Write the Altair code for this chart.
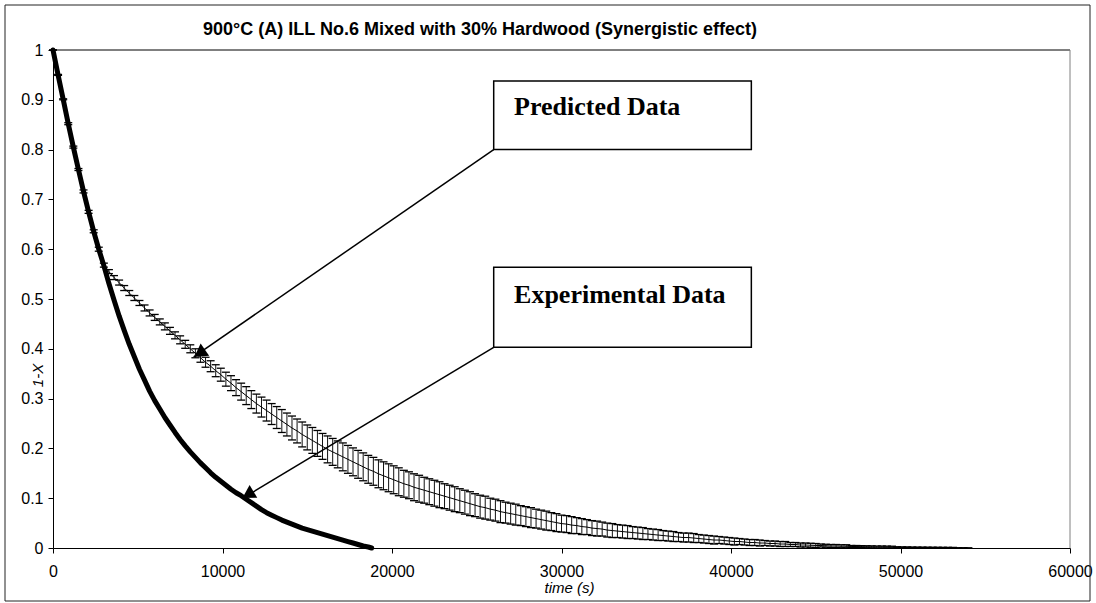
import altair as alt
import pandas as pd

# ---- Predicted conversion (mean and error half-width), sampled every 300 s ----
pred_time = list(range(0, 54001, 300))
pred_mean = [
    1.000, 0.950, 0.901, 0.852, 0.805, 0.760, 0.716, 0.675, 0.636, 0.600, 0.568,
    0.555, 0.543, 0.533, 0.522, 0.512, 0.502, 0.492, 0.482, 0.472,
    0.463, 0.454, 0.445, 0.436, 0.427, 0.418, 0.409, 0.400, 0.391,
    0.382, 0.373, 0.365, 0.356, 0.348, 0.339, 0.331, 0.322, 0.314, 0.306,
    0.298, 0.290, 0.283, 0.276, 0.269, 0.262, 0.255, 0.248, 0.241, 0.235,
    0.228, 0.222, 0.216, 0.210, 0.204, 0.198, 0.193, 0.188, 0.183, 0.178,
    0.173, 0.168, 0.163, 0.158, 0.154, 0.149, 0.145, 0.141, 0.137, 0.133,
    0.129, 0.126, 0.122, 0.119, 0.116, 0.113, 0.110, 0.107, 0.104, 0.101,
    0.098, 0.095, 0.092, 0.089, 0.086, 0.083, 0.081, 0.078, 0.076, 0.073,
    0.071, 0.069, 0.067, 0.065, 0.063, 0.061, 0.059, 0.057, 0.055, 0.053,
    0.051, 0.049, 0.048, 0.046, 0.045, 0.043, 0.042, 0.040, 0.039, 0.038,
    0.036, 0.035, 0.034, 0.033, 0.032, 0.031, 0.030, 0.029, 0.028, 0.027,
    0.026, 0.025, 0.024, 0.023, 0.022, 0.021, 0.021, 0.020, 0.019, 0.018,
    0.017, 0.016, 0.016, 0.015, 0.014, 0.013, 0.013, 0.012, 0.011, 0.011,
    0.010, 0.010, 0.009, 0.009, 0.008, 0.008, 0.007, 0.007, 0.006, 0.006,
    0.0055, 0.005, 0.005, 0.0045, 0.004, 0.004, 0.0035, 0.0035, 0.003, 0.003,
    0.0027, 0.0025, 0.0023, 0.002, 0.002, 0.0018, 0.0016, 0.0015, 0.0013, 0.0012,
    0.001, 0.0009, 0.0008, 0.0007, 0.0006, 0.0005, 0.0004, 0.0003, 0.0002, 0.0001,
    0.0001, 0.0,
]
pred_err = [
    0.000, 0.001, 0.001, 0.002, 0.002, 0.002, 0.003, 0.003, 0.003, 0.004, 0.004,
    0.004, 0.004, 0.005, 0.005, 0.005, 0.005, 0.005, 0.006, 0.006,
    0.006, 0.006, 0.007, 0.007, 0.007, 0.008, 0.008, 0.008, 0.009,
    0.009, 0.010, 0.011, 0.012, 0.013, 0.014, 0.015, 0.016, 0.017, 0.018,
    0.018, 0.019, 0.020, 0.021, 0.021, 0.022, 0.023, 0.023, 0.024, 0.024,
    0.025, 0.025, 0.026, 0.026, 0.026, 0.027, 0.027, 0.027, 0.028, 0.028,
    0.028, 0.028, 0.028, 0.028, 0.028, 0.028, 0.028, 0.028, 0.028, 0.028,
    0.027, 0.027, 0.027, 0.027, 0.026, 0.026, 0.026, 0.026, 0.025, 0.025,
    0.025, 0.024, 0.024, 0.024, 0.023, 0.023, 0.023, 0.022, 0.022, 0.022,
    0.021, 0.021, 0.021, 0.020, 0.020, 0.020, 0.019, 0.019, 0.019, 0.018,
    0.018, 0.017, 0.017, 0.017, 0.016, 0.016, 0.015, 0.015, 0.015, 0.014,
    0.014, 0.014, 0.013, 0.013, 0.013, 0.012, 0.012, 0.012, 0.011, 0.011,
    0.011, 0.010, 0.010, 0.010, 0.009, 0.009, 0.009, 0.009, 0.008, 0.008,
    0.008, 0.008, 0.007, 0.007, 0.007, 0.007, 0.006, 0.006, 0.006, 0.006,
    0.006, 0.005, 0.005, 0.005, 0.005, 0.005, 0.004, 0.004, 0.004, 0.004,
    0.004, 0.004, 0.003, 0.003, 0.003, 0.003, 0.003, 0.003, 0.002, 0.002,
    0.002, 0.002, 0.002, 0.002, 0.002, 0.002, 0.002, 0.001, 0.001, 0.001,
    0.001, 0.001, 0.001, 0.001, 0.001, 0.001, 0.001, 0.001, 0.001, 0.000,
    0.000, 0.000,
]

# ---- Experimental conversion ----
exp_time = list(range(0, 18601, 300)) + [18800]
exp_val = [
    1.000, 0.950, 0.901, 0.852, 0.805, 0.760, 0.716, 0.675, 0.636, 0.600, 0.567,
    0.531, 0.498, 0.466, 0.437, 0.409, 0.384, 0.359, 0.337, 0.315, 0.296,
    0.279, 0.262, 0.247, 0.232, 0.218, 0.205, 0.193, 0.182, 0.171, 0.161,
    0.151, 0.142, 0.134, 0.126, 0.118, 0.111, 0.105, 0.098, 0.091, 0.084,
    0.077, 0.071, 0.066, 0.061, 0.056, 0.052, 0.048, 0.044, 0.040, 0.037,
    0.034, 0.031, 0.028, 0.025, 0.022, 0.019, 0.016, 0.013, 0.010, 0.007,
    0.004, 0.002,
    0.000,
]

# ---- Axis ticks ----
x_ticks = [0, 10000, 20000, 30000, 40000, 50000, 60000]
y_ticks = [0, 0.1, 0.2, 0.3, 0.4, 0.5, 0.6, 0.7, 0.8, 0.9, 1.0]

# ---- Callout boxes (data units): label, box corners, arrow tip, arrowhead centre/angle ----
callout_label = ["Predicted Data", "Experimental Data"]
box_x0 = [26000, 26000]
box_x1 = [41200, 41200]
box_y0 = [0.800, 0.403]
box_y1 = [0.938, 0.564]
text_x = [27200, 27200]
text_y = [0.869, 0.491]
tip_x = [8300, 11200]
tip_y = [0.384, 0.100]
head_x = [8650, 11500]
head_y = [0.391, 0.107]
head_angle = [235, 239]

assert len(pred_time) == len(pred_mean) == len(pred_err)
assert len(exp_time) == len(exp_val)

FONT = "Liberation Sans"
W, H = 1017, 498

pred = pd.DataFrame({"t": pred_time, "mean": pred_mean, "err": pred_err})
pred["lo"] = (pred["mean"] - pred["err"]).clip(lower=0)
pred["hi"] = pred["mean"] + pred["err"]
expd = pd.DataFrame({"t": exp_time, "v": exp_val})
call = pd.DataFrame({
    "label": callout_label, "bx0": box_x0, "bx1": box_x1, "by0": box_y0, "by1": box_y1,
    "tx": text_x, "ty": text_y, "px": tip_x, "py": tip_y,
    "hx": head_x, "hy": head_y, "ha": head_angle,
})
one = pd.DataFrame({"k": [0]})

xs = alt.Scale(domain=[0, 60000], nice=False, zero=False)
ys = alt.Scale(domain=[0, 1], nice=False)

x_axis = alt.Axis(
    values=x_ticks, format="d", title="time (s)", grid=False,
    labelFont=FONT, labelFontSize=16, labelColor="black", labelFlush=False,
    labelOverlap=False, labelBaseline="middle", labelPadding=18,
    tickSize=5, tickColor="black", domainColor="black",
    titleFont=FONT, titleFontSize=15, titleFontStyle="italic", titleFontWeight="normal",
    titleColor="black", titleX=516, titleY=44, titleBaseline="alphabetic", titleAlign="center",
)
y_axis = alt.Axis(
    values=y_ticks, format="~g", title="1-X", grid=False,
    labelFont=FONT, labelFontSize=16, labelColor="black", labelPadding=5,
    tickSize=5, tickColor="black", domainColor="black",
    titleFont=FONT, titleFontSize=15, titleFontStyle="italic", titleFontWeight="normal",
    titleColor="black", titleAngle=270, titleX=-16, titleY=325, titleBaseline="middle",
    titleAlign="center",
)


def X(field):
    return alt.X(field, scale=xs, axis=x_axis)


def Y(field):
    return alt.Y(field, scale=ys, axis=y_axis)


# chart-area border and plot-area frame
border = alt.Chart(one).mark_rect(fill="transparent", stroke="#222", strokeWidth=1).encode(
    x=alt.value(-48), x2=alt.value(1037), y=alt.value(-45), y2=alt.value(551)
)
frame_top = alt.Chart(one).mark_rule(color="black", strokeWidth=1).encode(
    x=alt.value(0), x2=alt.value(W), y=alt.value(0)
)
frame_right = alt.Chart(one).mark_rule(color="#808080", strokeWidth=1).encode(
    x=alt.value(W), y=alt.value(0), y2=alt.value(H)
)

# predicted data with error bars
err_bars = alt.Chart(pred).mark_rule(color="#111", strokeWidth=1).encode(
    x=X("t:Q"), y=Y("lo:Q"), y2="hi:Q"
)
cap_hi = alt.Chart(pred).mark_point(shape="stroke", size=64, strokeWidth=1.3, color="black", opacity=1).encode(
    x=X("t:Q"), y=Y("hi:Q")
)
cap_lo = alt.Chart(pred).mark_point(shape="stroke", size=64, strokeWidth=1.3, color="black", opacity=1).encode(
    x=X("t:Q"), y=Y("lo:Q")
)
pred_line = alt.Chart(pred).mark_line(color="black", strokeWidth=1).encode(
    x=X("t:Q"), y=Y("mean:Q")
)

# experimental data
exp_line = alt.Chart(expd).mark_line(color="black", strokeWidth=5, strokeCap="round", strokeJoin="round").encode(
    x=X("t:Q"), y=Y("v:Q")
)

# callouts
boxes = alt.Chart(call).mark_rect(fill="white", stroke="black", strokeWidth=1.5).encode(
    x=X("bx0:Q"), x2="bx1:Q", y=Y("by0:Q"), y2="by1:Q"
)
box_text = alt.Chart(call).mark_text(
    font="Liberation Serif", fontSize=26, fontWeight="bold", align="left", baseline="alphabetic", color="black"
).encode(x=X("tx:Q"), y=Y("ty:Q"), text="label:N")
arrows = alt.Chart(call).mark_rule(color="black", strokeWidth=1.5).encode(
    x=X("bx0:Q"), y=Y("by0:Q"), x2="px:Q", y2="py:Q"
)
heads = alt.Chart(call).mark_point(shape="triangle-up", size=220, filled=True, color="black", opacity=1).encode(
    x=X("hx:Q"), y=Y("hy:Q"), angle=alt.Angle("ha:Q", scale=None)
)

title = alt.Chart(one).mark_text(
    text="900°C (A) ILL No.6 Mixed with 30% Hardwood (Synergistic effect)",
    font=FONT, fontSize=18, fontWeight="bold", align="center", baseline="alphabetic", color="black",
).encode(x=alt.value(427), y=alt.value(-15))

chart = alt.layer(
    border, frame_top, frame_right, err_bars, cap_hi, cap_lo, pred_line, exp_line,
    arrows, heads, boxes, box_text, title,
).properties(
    width=W, height=H,
    padding={"left": 53, "top": 50, "right": 26, "bottom": 55},
    autosize=alt.AutoSizeParams(type="none"),
    background="white",
).configure_view(stroke=None)

chart.save("out.html", embed_options={"renderer": "svg", "actions": False})
